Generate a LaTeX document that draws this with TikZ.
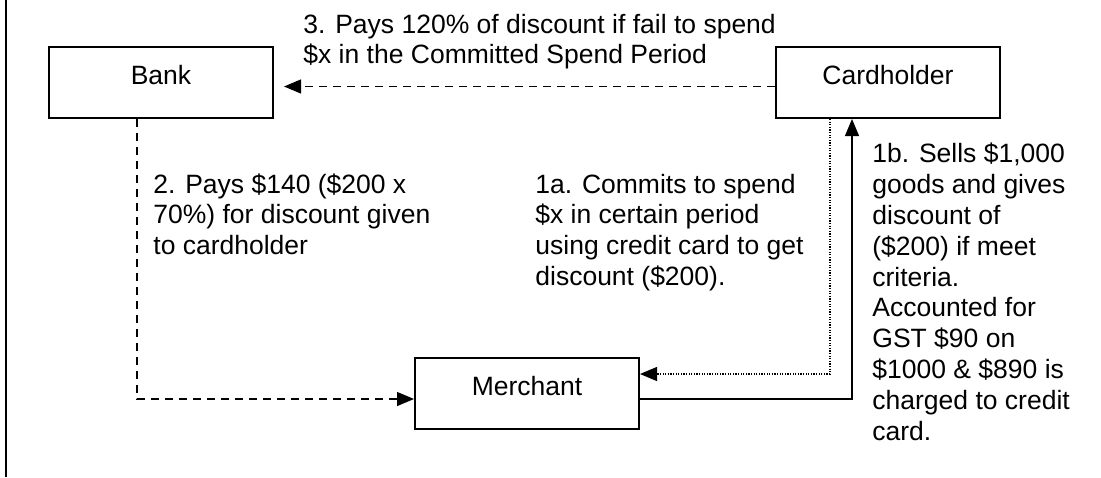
\documentclass[tikz,border=0pt]{standalone}
\usepackage{fontspec}
\setmainfont{Liberation Sans}
\usetikzlibrary{arrows.meta}

\begin{document}
\begin{tikzpicture}[
x=0.5pt,y=-0.5pt,
font=\fontsize{13.25pt}{15.4pt}\selectfont,
party/.style={rectangle,draw=black,line width=1pt,minimum width=112pt,
  minimum height=35.5pt,inner sep=0pt,text height=1ex+2pt,text depth=1ex},
note/.style={anchor=base west,align=left,inner sep=0pt},
arrow/.style={-{Triangle[length=8.5pt,width=7pt]},line width=0.6pt},
dashline/.style={dash pattern=on 4pt off 3pt},
dotline/.style={dash pattern=on 0.6pt off 0.7pt}
]
\useasboundingbox (0,0) rectangle (1101,477);
\draw[line width=1pt] (6,0) -- (6,477);

\node[party] (bank) at (161,82.5) {Bank};
\node[party] (card) at (888,82.5) {Cardholder};
\node[party] (merch) at (527,393) {Merchant};

% base anchor sits on the last line
\node[note] (pay3) at (303,63.8) {3. Pays 120\% of discount if fail to spend\\\$x in the Committed Spend Period};
\node[note] (pay2) at (153,254.6) {2. Pays \$140 (\$200 x\\70\%) for discount given\\to cardholder};
\node[note] (commit) at (535,285.4) {1a. Commits to spend\\\$x in certain period\\using credit card to get\\discount (\$200).};
\node[note] (sells) at (872,440) {1b. Sells \$1,000\\goods and gives\\discount of\\(\$200) if meet\\criteria.\\Accounted for\\GST \$90 on\\\$1000 \& \$890 is\\charged to credit\\card.};

\draw[arrow,dashline,shorten >=5pt] ([yshift=-2pt]card.west) -- ([yshift=-2pt]bank.east);
\draw[arrow,dashline] ([xshift=-12pt]bank.south) |- ([yshift=-3pt]merch.west);
\draw[arrow,dotline] ([xshift=-29pt]card.south) |- ([yshift=9.5pt]merch.east);
\draw[arrow] ([yshift=-3pt]merch.east) -| ([xshift=-18pt]card.south);

\end{tikzpicture}
\end{document}
